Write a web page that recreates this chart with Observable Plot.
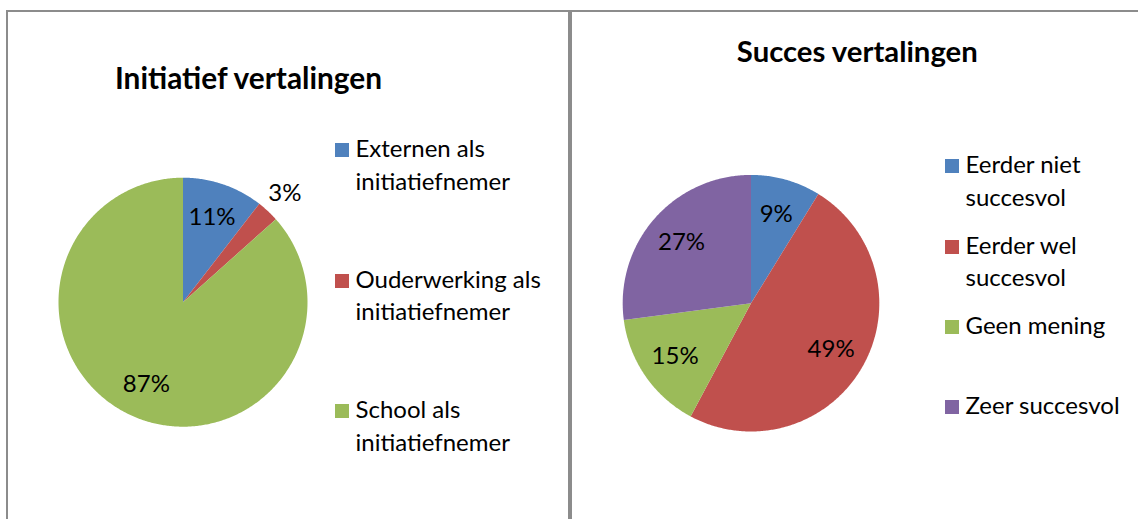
<!DOCTYPE html>
<html>
<head>
<meta charset="utf-8">
<script src="https://cdn.jsdelivr.net/npm/d3@7"></script>
<script src="https://cdn.jsdelivr.net/npm/@observablehq/plot@0.6"></script>
<style>
  html, body { margin: 0; padding: 0; background: #fff; }
  #wrap { position: relative; width: 1138px; height: 519px; overflow: hidden; background: #fff; font-family: Lato, "Open Sans", sans-serif; color: #000; }
  .rule { position: absolute; background: #8c8c8c; }
  .title { position: absolute; font-weight: bold; text-align: center; white-space: nowrap; }
  .item { position: absolute; }
  .swatch { position: absolute; left: 0; width: 14px; height: 14px; }
  .ltext { position: absolute; }
  .plot { position: absolute; }
</style>
</head>
<body>
<div id="wrap"></div>
<script>
// ---- data ----
const initTitle = "Initiatief vertalingen";
const initCategories = ["Externen als initiatiefnemer", "Ouderwerking als initiatiefnemer", "School als initiatiefnemer"];
const initValues = [10.5, 2.9, 86.6];

const succesTitle = "Succes vertalingen";
const succesCategories = ["Eerder niet succesvol", "Eerder wel succesvol", "Geen mening", "Zeer succesvol"];
const succesValues = [8.8, 49.0, 15.1, 27.1];

const palette = ["#4F81BD", "#C0504D", "#9BBB59", "#8064A2"];

// ---- layout ----
const wrap = document.getElementById("wrap");
function rule(left, top, width, height) {
  const d = document.createElement("div");
  d.className = "rule";
  Object.assign(d.style, {left: left + "px", top: top + "px", width: width + "px", height: height + "px"});
  wrap.appendChild(d);
}
rule(6, 10, 1132, 2);   // top border
rule(6, 10, 2, 509);    // left border
rule(568, 10, 4, 509);  // separator

function pieRows(categories, values) {
  const arcs = d3.pie().sort(null).value(d => d)(values);
  const rows = [];
  arcs.forEach((a, i) => {
    const cat = categories[i];
    rows.push({cat, x: 0, y: 0});
    const n = Math.max(2, Math.ceil((a.endAngle - a.startAngle) / 0.01));
    for (let k = 0; k <= n; k++) {
      const t = a.startAngle + (a.endAngle - a.startAngle) * k / n;
      rows.push({cat, x: Math.sin(t), y: Math.cos(t)});
    }
    rows.push({cat, x: 0, y: 0});
  });
  return rows;
}
function labelRows(categories, values) {
  const total = d3.sum(values);
  const arcs = d3.pie().sort(null).value(d => d)(values);
  return arcs.map((a, i) => {
    const share = values[i] / total;
    const mid = (a.startAngle + a.endAngle) / 2;
    const rr = share < 0.05 ? 1.2 : 0.72;
    return {cat: categories[i], x: rr * Math.sin(mid), y: rr * Math.cos(mid), label: Math.round(share * 100) + "%"};
  });
}

function drawPanel(opts) {
  const {left, top, width, height, cx, cy, r, categories, values, title, titleCx, titleBaseline, titleSize,
         legendX, legendTop, legendStep, legendWidth, fontSize, lineHeight} = opts;
  const plot = Plot.plot({
    width, height,
    margin: 0,
    x: {domain: [-1, 1], range: [cx - left - r, cx - left + r], axis: null},
    y: {domain: [-1, 1], range: [cy - top + r, cy - top - r], axis: null},
    color: {domain: categories, range: palette.slice(0, categories.length)},
    style: {background: "transparent", fontFamily: "Lato, 'Open Sans', sans-serif", overflow: "visible"},
    marks: [
      Plot.line(pieRows(categories, values), {x: "x", y: "y", z: "cat", fill: "cat", stroke: "none"}),
      Plot.text(labelRows(categories, values), {x: "x", y: "y", text: "label", fontSize, fill: "#000"})
    ]
  });
  plot.classList.add("plot");
  plot.style.left = left + "px";
  plot.style.top = top + "px";
  wrap.appendChild(plot);

  // title
  const t = document.createElement("div");
  t.className = "title";
  t.textContent = title;
  Object.assign(t.style, {fontSize: titleSize + "px", lineHeight: (titleSize * 1.2) + "px",
    left: (titleCx - 200) + "px", width: "400px", top: (titleBaseline - titleSize * 0.994) + "px"});
  wrap.appendChild(t);

  // legend
  categories.forEach((c, i) => {
    const it = document.createElement("div");
    it.className = "item";
    Object.assign(it.style, {left: legendX + "px", top: (legendTop + i * legendStep) + "px",
      fontSize: fontSize + "px", lineHeight: lineHeight + "px"});
    const sw = document.createElement("div");
    sw.className = "swatch";
    sw.style.background = palette[i];
    const base = (lineHeight - 1.2 * fontSize) / 2 + 0.987 * fontSize;
    sw.style.top = (base - 14.5) + "px";
    const tx = document.createElement("div");
    tx.className = "ltext";
    tx.textContent = c;
    Object.assign(tx.style, {left: "21px", width: legendWidth + "px"});
    it.appendChild(sw);
    it.appendChild(tx);
    wrap.appendChild(it);
  });
}

const fs = 24, lh = 32.7;
const baseOff = (lh - 1.2 * fs) / 2 + 0.987 * fs;

drawPanel({left: 8, top: 12, width: 560, height: 507, cx: 182.5, cy: 301.7, r: 124.5,
  categories: initCategories, values: initValues, title: initTitle, titleCx: 248.5, titleBaseline: 90, titleSize: 29.8,
  legendX: 334.5, legendTop: 157.7 - baseOff, legendStep: 130.5, legendWidth: 212, fontSize: fs, lineHeight: lh});

drawPanel({left: 572, top: 12, width: 566, height: 507, cx: 750.5, cy: 302.7, r: 128.3,
  categories: succesCategories, values: succesValues, title: succesTitle, titleCx: 857.3, titleBaseline: 61.7, titleSize: 29.3,
  legendX: 944.5, legendTop: 174 - baseOff, legendStep: 80.3, legendWidth: 172, fontSize: fs, lineHeight: lh});
</script>
</body>
</html>
